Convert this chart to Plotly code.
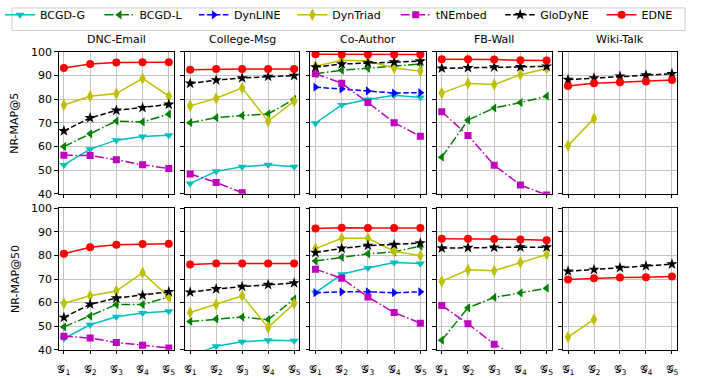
import plotly.graph_objects as go

# ---- data -------------------------------------------------------------
DATASETS = ["DNC-Email", "College-Msg", "Co-Author", "FB-Wall", "Wiki-Talk"]
SNAPSHOTS = [1, 2, 3, 4, 5]
SNAPSHOT_LABELS = ["𝒢<sub>1</sub>", "𝒢<sub>2</sub>", "𝒢<sub>3</sub>",
                   "𝒢<sub>4</sub>", "𝒢<sub>5</sub>"]
Y_TICKS = [40, 50, 60, 70, 80, 90, 100]
METRICS = ["NR-MAP@5", "NR-MAP@50"]
METHODS = ["BCGD-G", "BCGD-L", "DynLINE", "DynTriad", "tNEmbed", "GloDyNE", "EDNE"]

NA = [None] * 5

# NR-MAP@5, one list per dataset (DNC-Email, College-Msg, Co-Author, FB-Wall, Wiki-Talk)
BCGD_G_MAP5 = [[52.2, 58.9, 62.7, 64.2, 64.8], [44.4, 49.5, 51.4, 52.3, 51.4],
               [69.9, 77.6, 79.9, 81.7, 80.7], NA, NA]
BCGD_L_MAP5 = [[60.0, 65.4, 70.8, 70.4, 73.7], [70.1, 72.2, 73.1, 73.8, 80.0],
               [90.8, 92.3, 93.1, 93.9, 94.9], [55.5, 71.2, 76.3, 78.6, 81.3], NA]
DYNLINE_MAP5 = [NA, NA, [85.1, 84.4, 83.5, 82.6, 82.8], NA, NA]
DYNTRIAD_MAP5 = [[77.6, 81.3, 82.4, 88.8, 81.3], [77.2, 80.4, 84.8, 70.7, 79.2],
                 [94.0, 96.5, 96.2, 93.2, 91.9], [82.6, 86.7, 86.2, 90.4, 93.0],
                 [60.4, 71.8, None, None, None]]
TNEMBED_MAP5 = [[56.3, 56.2, 54.4, 52.3, 50.7], [48.4, 44.8, 40.5, 37.5, 34.5],
                [90.8, 86.8, 78.6, 70.1, 64.3], [74.7, 64.7, 52.1, 43.7, 39.5], NA]
GLODYNE_MAP5 = [[66.6, 72.1, 75.3, 76.4, 77.8], [86.7, 88.1, 89.0, 89.6, 90.0],
                [93.6, 94.9, 95.3, 95.7, 96.1], [93.1, 93.3, 93.6, 93.7, 93.9],
                [88.3, 89.0, 89.7, 90.2, 90.8]]
EDNE_MAP5 = [[93.2, 94.9, 95.5, 95.6, 95.7], [92.5, 92.8, 92.8, 92.8, 92.8],
             [99.0, 98.9, 98.9, 98.9, 98.9], [96.9, 96.9, 96.8, 96.5, 96.4],
             [85.6, 86.8, 87.2, 87.5, 88.1]]

# NR-MAP@50
BCGD_G_MAP50 = [[44.8, 50.6, 54.0, 55.6, 56.3], [37.3, 41.5, 43.4, 44.1, 43.8],
                [64.2, 72.0, 74.7, 77.0, 76.6], NA, NA]
BCGD_L_MAP50 = [[49.7, 54.3, 59.2, 59.2, 62.4], [52.0, 53.1, 53.9, 52.8, 61.5],
                [77.6, 79.2, 80.7, 81.5, 84.0], [44.1, 57.8, 62.2, 64.1, 66.1], NA]
DYNLINE_MAP50 = [NA, NA, [64.2, 64.6, 64.6, 64.2, 64.6], NA, NA]
DYNTRIAD_MAP50 = [[59.7, 62.9, 64.9, 72.7, 62.4], [55.8, 59.2, 62.9, 49.5, 59.6],
                  [82.9, 87.3, 87.3, 81.8, 79.9], [69.0, 73.9, 73.5, 77.0, 80.4],
                  [45.4, 52.9, None, None, None]]
TNEMBED_MAP50 = [[45.8, 45.0, 43.1, 41.9, 40.8], NA,
                 [74.2, 70.3, 62.4, 55.8, 51.3], [58.8, 51.0, 42.4, 36.5, 33.0], NA]
GLODYNE_MAP50 = [[53.7, 59.3, 61.9, 63.1, 64.6], [64.4, 65.8, 66.8, 67.6, 68.3],
                 [81.2, 83.0, 84.2, 84.6, 85.2], [83.1, 83.3, 83.4, 83.5, 83.5],
                 [73.3, 74.0, 74.8, 75.5, 76.3]]
EDNE_MAP50 = [[80.7, 83.5, 84.5, 84.8, 85.0], [76.2, 76.6, 76.6, 76.6, 76.6],
              [91.4, 91.7, 91.6, 91.6, 91.6], [87.1, 87.1, 87.0, 86.8, 86.4],
              [69.8, 70.3, 70.6, 70.8, 71.1]]

RESULTS = {
    "BCGD-G": (BCGD_G_MAP5, BCGD_G_MAP50),
    "BCGD-L": (BCGD_L_MAP5, BCGD_L_MAP50),
    "DynLINE": (DYNLINE_MAP5, DYNLINE_MAP50),
    "DynTriad": (DYNTRIAD_MAP5, DYNTRIAD_MAP50),
    "tNEmbed": (TNEMBED_MAP5, TNEMBED_MAP50),
    "GloDyNE": (GLODYNE_MAP5, GLODYNE_MAP50),
    "EDNE": (EDNE_MAP5, EDNE_MAP50),
}

# ---- styles -----------------------------------------------------------
STYLE = {
    "BCGD-G":   dict(color="#00BFBF", symbol="triangle-down", dash="solid", size=8),
    "BCGD-L":   dict(color="#008000", symbol="triangle-left", dash="9px,2.5px,1.5px,2.5px", size=8),
    "DynLINE":  dict(color="#0000FF", symbol="triangle-right", dash="5.5px,2.5px", size=8),
    "DynTriad": dict(color="#BFBF00", symbol="diamond-tall", dash="solid", size=9),
    "tNEmbed":  dict(color="#BF00BF", symbol="square", dash="9px,2.5px,1.5px,2.5px", size=7),
    "GloDyNE":  dict(color="#000000", symbol="star", dash="5.5px,2.5px", size=8.5),
    "EDNE":     dict(color="#FF0000", symbol="circle", dash="solid", size=8),
}

W, H = 707, 378
FONT = "DejaVu Sans"
COL_PX = [(56, 172), (183, 298), (309, 425), (436, 552), (563, 678)]
ROW_PX = [(46.7, 194), (209, 356)]
# left edge (px) of each legend entry in the top key row
LEGEND_X_PX = [-3, 97, 192, 291, 395, 500, 602]


def xdom(c):
    return [COL_PX[c][0] / W, COL_PX[c][1] / W]


def ydom(r):
    return [1 - ROW_PX[r][1] / H, 1 - ROW_PX[r][0] / H]


fig = go.Figure()
layout = {}

for r in range(2):
    for c in range(5):
        k = r * 5 + c + 1
        sx = "" if k == 1 else str(k)
        layout["xaxis" + sx] = dict(
            domain=xdom(c), anchor="y" + sx, range=[0.8, 5.2],
            tickvals=SNAPSHOTS, ticktext=SNAPSHOT_LABELS,
            showticklabels=(r == 1), ticks="outside", ticklen=3.5, tickwidth=0.8,
            tickcolor="black", showgrid=True, gridcolor="#c4c4c4", gridwidth=1,
            showline=True, linecolor="black", linewidth=1, mirror=True,
            zeroline=False, ticklabelstandoff=5,
            tickfont=dict(family=FONT, size=11, color="black"),
        )
        layout["yaxis" + sx] = dict(
            domain=ydom(r), anchor="x" + sx, range=[40, 100], tickvals=Y_TICKS,
            showticklabels=(c == 0), ticks="outside", ticklen=3.5, tickwidth=0.8,
            tickcolor="black", showgrid=True, gridcolor="#c4c4c4", gridwidth=1,
            showline=True, linecolor="black", linewidth=1, mirror=True,
            zeroline=False, tickfont=dict(family=FONT, size=11, color="black"),
        )

for i, m in enumerate(METHODS):
    st = STYLE[m]
    leg = "legend" if i == 0 else "legend%d" % (i + 1)
    shown = False
    for r in range(2):
        for c in range(5):
            vals = RESULTS[m][r][c]
            if all(v is None for v in vals):
                continue
            k = r * 5 + c + 1
            sx = "" if k == 1 else str(k)
            fig.add_trace(go.Scatter(
                x=SNAPSHOTS, y=vals, mode="lines+markers", name=m,
                legendgroup=m, showlegend=not shown, legend=leg,
                xaxis="x" + sx, yaxis="y" + sx,
                line=dict(color=st["color"], width=1.5, dash=st["dash"]),
                marker=dict(color=st["color"], symbol=st["symbol"], size=st["size"],
                            line=dict(width=0)),
            ))
            shown = True
    layout[leg] = dict(
        orientation="h", x=LEGEND_X_PX[i] / W, y=1 + 7 / H,
        xanchor="left", yanchor="top",
        bgcolor="rgba(0,0,0,0)", borderwidth=0,
        font=dict(family=FONT, size=11, color="black"),
        itemclick=False, itemdoubleclick=False,
    )

annotations = []
for c, name in enumerate(DATASETS):
    annotations.append(dict(
        text=name, xref="paper", yref="paper",
        x=(COL_PX[c][0] + COL_PX[c][1]) / 2 / W, y=1 - 34 / H,
        xanchor="center", yanchor="middle", showarrow=False,
        font=dict(family=FONT, size=11, color="black"),
    ))
for r, name in enumerate(METRICS):
    annotations.append(dict(
        text=name, xref="paper", yref="paper", textangle=-90,
        x=12 / W, y=1 - (ROW_PX[r][0] + ROW_PX[r][1]) / 2 / H,
        xanchor="center", yanchor="middle", showarrow=False,
        font=dict(family=FONT, size=11, color="black"),
    ))

fig.update_layout(
    **layout,
    width=W, height=H, margin=dict(l=0, r=0, t=0, b=0),
    paper_bgcolor="white", plot_bgcolor="white",
    font=dict(family=FONT, size=11, color="black"),
    annotations=annotations,
    shapes=[dict(type="rect", xref="paper", yref="paper",
                 x0=9 / W, x1=686 / W, y0=1 - 24.5 / H, y1=1 - 1 / H,
                 line=dict(color="#cccccc", width=1), fillcolor="rgba(0,0,0,0)",
                 layer="below")],
)

fig.write_html("out.html")
